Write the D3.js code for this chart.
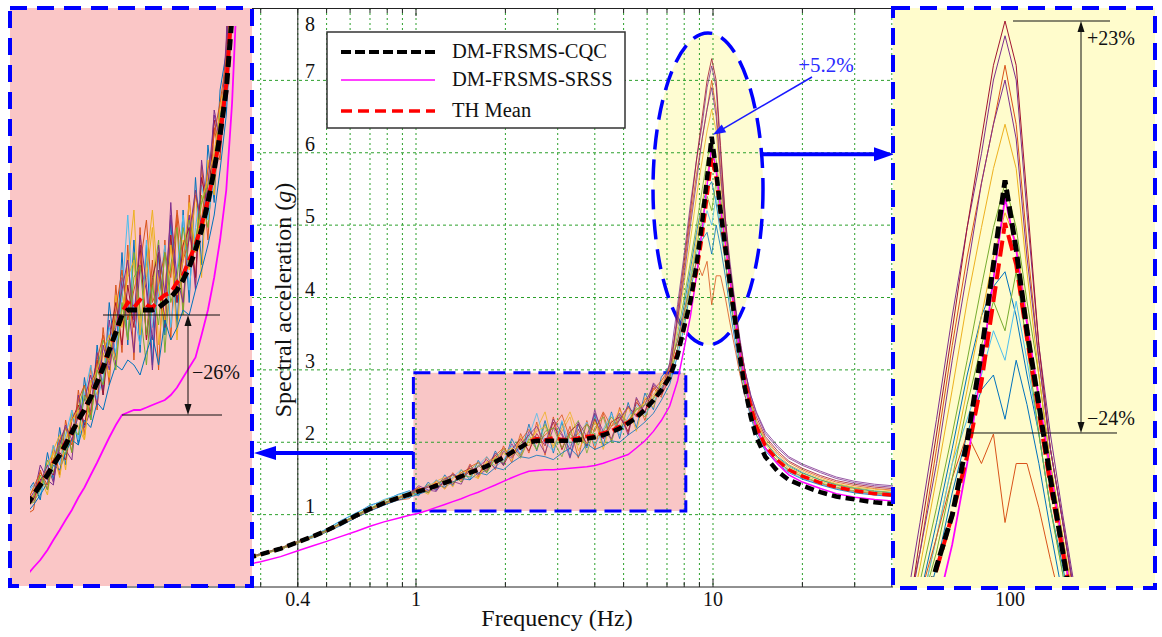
<!DOCTYPE html>
<html><head><meta charset="utf-8">
<script src="https://cdn.jsdelivr.net/npm/d3@7"></script>
<style>body{margin:0;background:#fff}svg{display:block}text{font-family:"Liberation Serif","DejaVu Serif",serif;fill:#111}</style>
</head><body><svg id="chart" width="1162" height="637"></svg>
<script>
// ---------------- data ----------------
const freq = [0.27,0.3,0.35,0.4,0.45,0.5,0.56,0.63,0.7,0.78,0.87,
  0.95,1.02,1.1,1.17,1.25,1.33,1.42,1.52,1.62,1.73,1.85,1.97,2.1,2.25,2.4,2.55,2.72,2.9,3.1,3.3,3.52,3.76,4.0,4.27,4.55,4.85,5.18,5.52,5.9,6.3,6.7,7.15,
  7.6,8.0,8.4,8.8,9.2,9.55,9.9,10.25,10.6,11.0,11.4,11.85,12.3,12.8,13.4,14.0,
  15,16.5,18,20,23,26,30,35,40,45];
const cqc = [0.40,0.45,0.53,0.62,0.70,0.78,0.88,0.99,1.08,1.16,1.23,
  1.28,1.32,1.36,1.40,1.44,1.48,1.53,1.58,1.62,1.67,1.73,1.79,1.86,1.93,2.00,2.02,2.02,2.02,2.02,2.02,2.03,2.05,2.07,2.10,2.14,2.19,2.26,2.34,2.45,2.58,2.72,2.90,
  3.2,3.6,3.95,4.45,5.05,5.65,6.22,5.75,5.2,4.7,4.2,3.7,3.2,2.75,2.35,2.07,
  1.80,1.60,1.48,1.40,1.31,1.25,1.21,1.17,1.15,1.13];
const srss = [0.31,0.35,0.42,0.50,0.57,0.63,0.70,0.77,0.84,0.90,0.95,
  0.99,1.02,1.06,1.10,1.14,1.18,1.22,1.27,1.31,1.36,1.41,1.46,1.51,1.56,1.60,1.61,1.62,1.62,1.63,1.64,1.65,1.66,1.68,1.71,1.75,1.79,1.83,1.92,2.02,2.15,2.30,2.50,
  2.85,3.3,3.75,4.3,4.95,5.55,6.1,5.75,5.25,4.75,4.25,3.75,3.25,2.85,2.45,2.2,
  1.92,1.7,1.55,1.45,1.36,1.29,1.24,1.21,1.19,1.17];
const thMean = [0.40,0.45,0.53,0.62,0.70,0.78,0.88,0.99,1.08,1.16,1.23,
  1.28,1.33,1.36,1.41,1.44,1.49,1.53,1.58,1.63,1.67,1.73,1.80,1.86,1.93,2.01,2.05,2.03,2.06,2.04,2.03,2.06,2.08,2.09,2.13,2.16,2.22,2.28,2.36,2.46,2.58,2.73,2.92,
  3.25,3.58,3.95,4.35,4.85,5.4,5.93,5.65,5.15,4.65,4.15,3.7,3.25,2.85,2.5,2.22,
  1.95,1.75,1.62,1.53,1.44,1.38,1.33,1.29,1.27,1.25];
const thRecords = [
 [0.41,0.46,0.54,0.63,0.71,0.80,0.92,1.02,1.13,1.19,1.28, 1.33,1.26,1.45,1.34,1.55,1.40,1.62,1.48,1.75,1.58,1.88,1.68,2.05,1.82,2.25,1.88,2.30,1.85,2.28,1.80,2.25,1.92,2.38,1.95,2.42,2.05,2.55,2.20,2.68,2.45,2.90,3.05, 3.4,3.9,4.4,4.9,5.3,5.5,5.6,5.3,4.9,4.5,4.0,3.6,3.15,2.8,2.5,2.25, 2.0,1.8,1.68,1.58,1.48,1.41,1.36,1.32,1.30,1.28],
 [0.40,0.45,0.52,0.61,0.69,0.76,0.86,0.96,1.05,1.14,1.20, 1.22,1.38,1.30,1.48,1.36,1.58,1.45,1.70,1.52,1.80,1.62,1.95,1.72,2.12,1.85,2.28,1.82,2.35,1.90,2.22,1.78,2.30,1.90,2.40,2.02,2.48,2.12,2.60,2.30,2.75,2.62,3.08, 3.7,4.4,5.1,5.7,6.2,6.6,7.0,6.6,5.8,5.0,4.4,3.9,3.35,2.9,2.55,2.3, 2.05,1.85,1.72,1.62,1.52,1.45,1.40,1.36,1.34,1.32],
 [0.39,0.44,0.53,0.62,0.71,0.79,0.87,1.01,1.08,1.20,1.25, 1.30,1.35,1.28,1.46,1.52,1.38,1.62,1.55,1.50,1.74,1.68,1.85,1.75,2.08,1.95,2.18,2.42,1.95,2.15,2.35,1.88,2.12,2.32,1.90,2.30,2.18,2.50,2.15,2.62,2.48,2.85,2.95, 3.3,3.8,4.3,4.8,5.3,5.7,6.0,5.8,5.3,4.7,4.2,3.7,3.25,2.8,2.45,2.2, 1.97,1.77,1.64,1.55,1.46,1.40,1.35,1.31,1.29,1.27],
 [0.40,0.45,0.53,0.62,0.70,0.78,0.88,0.99,1.08,1.16,1.23, 1.27,1.40,1.34,1.32,1.50,1.46,1.42,1.68,1.55,1.62,1.85,1.70,1.98,1.80,2.15,2.05,1.85,2.20,2.10,1.78,2.18,1.98,2.45,2.05,2.22,2.40,2.10,2.62,2.40,2.82,2.70,3.10, 3.9,4.6,5.3,5.9,6.4,6.9,7.2,6.9,6.0,5.1,4.5,3.95,3.45,3.0,2.65,2.4, 2.12,1.92,1.78,1.68,1.58,1.50,1.44,1.40,1.38,1.36],
 [0.40,0.46,0.54,0.63,0.71,0.79,0.89,1.00,1.09,1.17,1.24, 1.25,1.30,1.42,1.37,1.46,1.55,1.45,1.62,1.72,1.58,1.78,1.90,1.82,1.98,2.10,1.90,2.25,2.02,1.80,2.12,2.30,1.85,2.20,2.35,2.00,2.38,2.28,2.48,2.35,2.62,2.80,2.90, 3.5,4.0,4.5,5.0,5.5,5.9,6.2,5.9,5.4,4.9,4.3,3.8,3.3,2.85,2.5,2.25, 2.0,1.79,1.66,1.57,1.48,1.42,1.37,1.33,1.31,1.29],
 [0.41,0.46,0.53,0.63,0.72,0.80,0.91,1.03,1.11,1.21,1.27, 1.32,1.28,1.38,1.48,1.40,1.52,1.62,1.50,1.68,1.80,1.66,1.75,1.95,1.85,2.08,2.40,2.00,1.88,2.30,1.95,2.08,2.28,1.95,2.18,2.40,2.10,2.35,2.52,2.38,2.55,2.75,2.85, 3.3,3.8,4.3,4.6,4.9,5.2,5.0,5.4,5.0,4.5,4.0,3.55,3.1,2.75,2.4,2.15, 1.9,1.72,1.6,1.5,1.42,1.36,1.31,1.28,1.26,1.24],
 [0.40,0.45,0.53,0.62,0.70,0.78,0.88,0.98,1.07,1.15,1.22, 1.26,1.34,1.38,1.36,1.45,1.42,1.58,1.64,1.56,1.70,1.82,1.68,1.90,2.05,1.88,2.12,1.95,2.28,1.90,2.15,2.25,1.95,2.32,2.05,2.28,2.35,2.15,2.55,2.42,2.78,2.65,2.88, 3.8,4.5,5.2,5.9,6.5,7.0,7.3,7.0,6.1,5.1,4.4,3.9,3.4,3.0,2.6,2.35, 2.08,1.88,1.74,1.64,1.54,1.47,1.42,1.38,1.36,1.34],
 [0.40,0.45,0.52,0.61,0.68,0.76,0.85,0.96,1.05,1.13,1.20, 1.24,1.28,1.33,1.40,1.38,1.45,1.50,1.48,1.58,1.55,1.65,1.62,1.72,1.80,1.78,1.82,1.80,1.76,1.85,1.92,1.80,1.98,1.90,1.95,2.02,2.00,2.10,2.18,2.28,2.40,2.58,2.80, 3.2,3.6,4.1,4.5,4.8,4.9,4.6,5.0,4.7,4.3,3.85,3.4,3.0,2.65,2.35,2.1, 1.88,1.7,1.58,1.49,1.41,1.35,1.30,1.27,1.25,1.23],
 [0.41,0.46,0.54,0.63,0.70,0.78,0.88,0.99,1.08,1.16,1.23, 1.31,1.37,1.32,1.42,1.50,1.55,1.48,1.66,1.72,1.60,1.82,1.92,1.80,2.02,2.18,1.98,2.10,2.20,2.38,2.05,2.12,2.25,2.15,2.42,2.22,2.30,2.48,2.38,2.58,2.72,2.85,3.02, 3.4,3.8,4.2,4.5,4.3,4.5,3.9,4.3,4.3,4.0,3.65,3.3,2.95,2.65,2.4,2.15, 1.92,1.74,1.61,1.52,1.43,1.37,1.32,1.29,1.27,1.25],
 [0.39,0.44,0.52,0.61,0.69,0.77,0.87,0.98,1.07,1.15,1.22, 1.28,1.32,1.40,1.45,1.35,1.50,1.58,1.62,1.50,1.72,1.78,1.86,1.92,1.82,2.02,2.15,2.22,1.92,2.20,2.42,2.10,1.98,2.28,2.08,2.22,2.45,2.25,2.45,2.55,2.65,2.82,2.95, 3.6,4.2,4.8,5.4,5.9,6.3,6.6,6.3,5.6,4.9,4.3,3.8,3.3,2.9,2.55,2.3, 2.02,1.83,1.69,1.6,1.5,1.43,1.38,1.35,1.33,1.31],
 [0.40,0.45,0.53,0.62,0.70,0.78,0.88,0.99,1.08,1.16,1.23, 1.29,1.33,1.40,1.33,1.48,1.56,1.50,1.60,1.66,1.76,1.64,1.88,1.78,1.95,2.10,2.22,1.98,2.32,2.12,1.90,2.28,2.08,2.40,2.15,2.05,2.32,2.50,2.35,2.52,2.80,2.70,2.98, 3.7,4.3,5.0,5.6,6.2,6.6,6.9,6.5,5.7,5.0,4.4,3.9,3.4,3.0,2.65,2.42, 2.15,1.95,1.8,1.7,1.6,1.52,1.46,1.42,1.4,1.38],
 [0.40,0.45,0.53,0.62,0.70,0.78,0.88,0.99,1.08,1.16,1.23, 1.27,1.36,1.30,1.42,1.48,1.44,1.55,1.52,1.68,1.58,1.78,1.72,1.90,1.78,2.05,1.90,2.15,2.20,1.92,2.12,1.96,2.25,2.05,2.15,2.35,2.20,2.30,2.45,2.52,2.60,2.76,2.90, 3.3,3.7,4.2,4.7,5.1,5.4,5.2,5.6,5.1,4.5,4.0,3.55,3.1,2.75,2.45,2.2, 1.93,1.74,1.62,1.53,1.44,1.38,1.33,1.30,1.28,1.26]
];
const thColors = ["#0072BD","#D95319","#EDB120","#7E2F8E","#77AC30","#4DBEEE","#A2142F"];
const seriesNames = ["DM-FRSMS-CQC","DM-FRSMS-SRSS","TH Mean"];
const yTickValues = [1,2,3,4,5,6,7,8];
const xTickLabels = [0.4,1,10,100];
const annotations = {peak:"+5.2%", low:"\u221226%", up:"+23%", down:"\u221224%"};

// ---------------- setup ----------------
const svg = d3.select("#chart");
svg.append("rect").attr("width",1162).attr("height",637).attr("fill","#fff");
const defs = svg.append("defs");
const BLUE = "#0000ff";

const x = d3.scaleLog().domain([0.1,100]).range([119,1010]);
const y = d3.scaleLinear().domain([0,8]).range([587,8]);
defs.append("clipPath").attr("id","cMain").append("rect").attr("x",119).attr("y",8).attr("width",891).attr("height",579);

function arrowHead(g, tx, ty, ang, len, hw, color){
  const bx = tx - len*Math.cos(ang), by = ty - len*Math.sin(ang);
  const px = -Math.sin(ang)*hw, py = Math.cos(ang)*hw;
  g.append("path").attr("d",`M${tx},${ty}L${bx+px},${by+py}L${bx-px},${by-py}Z`).attr("fill",color);
}

const main = svg.append("g");
const box = {f0:0.98,f1:8.1,v0:1.05,v1:2.96};
main.append("rect").attr("x",x(box.f0)).attr("y",y(box.v1)).attr("width",x(box.f1)-x(box.f0)).attr("height",y(box.v0)-y(box.v1)).attr("fill","#f9c6c6");
const ell = {f:9.62, v:5.5, rx:55, ry:156};
main.append("ellipse").attr("cx",x(ell.f)).attr("cy",y(ell.v)).attr("rx",ell.rx).attr("ry",ell.ry).attr("fill","#fefcd2");

// grid
const xt = x.ticks().filter(t=>t>0.1&&t<100);
main.append("g").selectAll("line").data(xt).join("line")
  .attr("x1",d=>x(d)).attr("x2",d=>x(d)).attr("y1",8).attr("y2",587)
  .attr("stroke","#2ca02c").attr("stroke-width",1).attr("stroke-dasharray","2,3");
main.append("g").selectAll("line").data([1,2,3,4,5,6,7]).join("line")
  .attr("x1",119).attr("x2",1010).attr("y1",d=>y(d)).attr("y2",d=>y(d))
  .attr("stroke","#2ca02c").attr("stroke-width",1).attr("stroke-dasharray","3,3");

// frame & ticks
const frame = main.append("g").attr("stroke","#222").attr("stroke-width",1);
frame.append("line").attr("x1",119).attr("x2",1010).attr("y1",8.5).attr("y2",8.5);
frame.append("line").attr("x1",119).attr("x2",1010).attr("y1",587).attr("y2",587);
frame.append("line").attr("x1",x(0.4)).attr("x2",x(0.4)).attr("y1",8).attr("y2",587);
const isMajor = t=>Math.abs(Math.log10(t)-Math.round(Math.log10(t)))<1e-6;
frame.selectAll(".tb").data(xt).join("line").attr("x1",d=>x(d)).attr("x2",d=>x(d))
  .attr("y1",587).attr("y2",d=>isMajor(d)?579:582);
frame.selectAll(".tt").data(xt).join("line").attr("x1",d=>x(d)).attr("x2",d=>x(d))
  .attr("y1",8).attr("y2",d=>isMajor(d)?16:13);

main.append("rect").attr("x",x(box.f0)).attr("y",y(box.v1)).attr("width",x(box.f1)-x(box.f0)).attr("height",y(box.v0)-y(box.v1))
  .attr("fill","none").attr("stroke",BLUE).attr("stroke-width",3).attr("stroke-dasharray","17,8");
main.append("ellipse").attr("cx",x(ell.f)).attr("cy",y(ell.v)).attr("rx",ell.rx).attr("ry",ell.ry)
  .attr("fill","none").attr("stroke",BLUE).attr("stroke-width",3.5).attr("stroke-dasharray","20,10");

// curves
function drawCurves(g, xs, ys, st){
  const ln = vals => d3.line().x((d,i)=>xs(freq[i])).y(d=>ys(d))(vals.slice(0,freq.length));
  thRecords.forEach((r,i)=>{
    g.append("path").attr("d",ln(r)).attr("fill","none").attr("stroke",thColors[i%thColors.length])
      .attr("stroke-width",st.th).attr("stroke-linejoin","round");
  });
  g.append("path").attr("d",ln(srss)).attr("fill","none").attr("stroke","#ff00ff").attr("stroke-width",st.srss);
  g.append("path").attr("d",ln(thMean)).attr("fill","none").attr("stroke","#ff0000").attr("stroke-width",st.mean).attr("stroke-dasharray",st.meanDash);
  g.append("path").attr("d",ln(cqc)).attr("fill","none").attr("stroke","#000").attr("stroke-width",st.cqc).attr("stroke-dasharray",st.cqcDash);
}
drawCurves(main.append("g").attr("clip-path","url(#cMain)"), x, y, {th:0.8,srss:1.5,mean:3.5,meanDash:"9,5",cqc:4.5,cqcDash:"9,5"});

// tick labels
svg.append("g").selectAll("text").data(yTickValues).join("text")
  .attr("x",305).attr("y",d=>Math.max(y(d)-2,31)).attr("font-size",20).text(d=>d);
svg.append("g").selectAll("text").data(xTickLabels).join("text")
  .attr("x",d=>x(d)).attr("y",606).attr("text-anchor","middle").attr("font-size",20).text(d=>d);
svg.append("text").attr("x",557).attr("y",626).attr("text-anchor","middle").attr("font-size",24).text("Frequency (Hz)");
svg.append("text").attr("transform","translate(291,300) rotate(-90)").attr("text-anchor","middle").attr("font-size",24)
  .html('Spectral acceleration (<tspan font-style="italic">g</tspan>)');

// legend
const lg = svg.append("g");
lg.append("rect").attr("x",327).attr("y",32).attr("width",298).attr("height",96).attr("fill","#fff").attr("stroke","#333").attr("stroke-width",1.5);
const legStyles = [{c:"#000",w:4,d:"10,4"},{c:"#ff00ff",w:1.5,d:null},{c:"#ff0000",w:3.5,d:"11,6"}];
const legY = [52,80,111];
seriesNames.forEach((n,i)=>{
  const l = lg.append("line").attr("x1",341).attr("x2",435).attr("y1",legY[i]).attr("y2",legY[i]).attr("stroke",legStyles[i].c).attr("stroke-width",legStyles[i].w);
  if(legStyles[i].d) l.attr("stroke-dasharray",legStyles[i].d);
  lg.append("text").attr("x",452).attr("y",legY[i]+6).attr("font-size",20.5).text(n);
});

// arrows & peak annotation
const ag = svg.append("g");
const yArrowL = y(1.85);
ag.append("line").attr("x1",x(box.f0)).attr("x2",272).attr("y1",yArrowL).attr("y2",yArrowL).attr("stroke",BLUE).attr("stroke-width",4);
arrowHead(ag,254,yArrowL,Math.PI,22,7,BLUE);
const yArrowR = y(5.98);
ag.append("line").attr("x1",x(ell.f)+ell.rx).attr("x2",876).attr("y1",yArrowR).attr("y2",yArrowR).attr("stroke",BLUE).attr("stroke-width",4);
arrowHead(ag,894,yArrowR,0,20,7,BLUE);
const pk = cqc.indexOf(d3.max(cqc));
const tipX = x(freq[pk])+1, tipY = y(cqc[pk])-2;
const ang = Math.atan2(tipY-77, tipX-812);
ag.append("line").attr("x1",812).attr("y1",77).attr("x2",tipX-10*Math.cos(ang)).attr("y2",tipY-10*Math.sin(ang)).attr("stroke","#1a1aff").attr("stroke-width",1.5);
arrowHead(ag,tipX,tipY,ang,13,4.5,"#1a1aff");
ag.append("text").attr("x",826).attr("y",72).attr("text-anchor","middle").attr("font-size",21).style("fill","#2b2bff").text(annotations.peak);

// ---------------- left inset ----------------
const L = svg.append("g");
L.append("rect").attr("x",10).attr("y",8).attr("width",242).attr("height",578).attr("fill","#fac6c6");
defs.append("clipPath").attr("id","cL").append("rect").attr("x",30).attr("y",26).attr("width",220).attr("height",558);
const xL = d3.scaleLog().domain([0.9,8.5]).range([28.3,242.8]);
const yL = d3.scaleLinear().domain([0.9,3.3]).range([590,-10]);
drawCurves(L.append("g").attr("clip-path","url(#cL)"), xL, yL, {th:1,srss:1.8,mean:4,meanDash:"11,6",cqc:5,cqcDash:"11,6"});
const plateau = cqc[freq.indexOf(2.4)], kink = srss[freq.indexOf(2.4)];
const la = L.append("g").attr("stroke","#111").attr("stroke-width",1);
la.append("line").attr("x1",103).attr("x2",220).attr("y1",yL(plateau)).attr("y2",yL(plateau));
la.append("line").attr("x1",xL(2.4)).attr("x2",222).attr("y1",yL(kink)).attr("y2",yL(kink));
la.append("line").attr("x1",188).attr("x2",188).attr("y1",yL(plateau)+9).attr("y2",yL(kink)-9);
arrowHead(L,188,yL(plateau),-Math.PI/2,11,3.5,"#111");
arrowHead(L,188,yL(kink),Math.PI/2,11,3.5,"#111");
L.append("text").attr("x",192).attr("y",379).attr("font-size",20).text(annotations.low);
L.append("rect").attr("x",10).attr("y",8).attr("width",242).attr("height",578).attr("fill","none")
  .attr("stroke",BLUE).attr("stroke-width",4).attr("stroke-dasharray","17,10");

// ---------------- right inset ----------------
const R = svg.append("g");
R.append("rect").attr("x",893).attr("y",8).attr("width",262).attr("height",580).attr("fill","#fffccc");
defs.append("clipPath").attr("id","cR").append("rect").attr("x",895).attr("y",10).attr("width",258).attr("height",567);
const xR = d3.scaleLog().domain([7,14]).range([893.6,1116.4]);
const yR = d3.scaleLinear().domain([3,7.5]).range([655.25,-8.5]);
drawCurves(R.append("g").attr("clip-path","url(#cR)"), xR, yR, {th:1,srss:1.8,mean:4,meanDash:"16,7",cqc:5,cqcDash:"12,5"});
const thMax = d3.max(thRecords, r=>d3.max(r));
const meanPk = d3.max(thMean);
const lowV = meanPk*0.76;
const ra = R.append("g").attr("stroke","#111").attr("stroke-width",1);
ra.append("line").attr("x1",1013).attr("x2",1110).attr("y1",yR(thMax)).attr("y2",yR(thMax));
ra.append("line").attr("x1",967).attr("x2",1117).attr("y1",yR(lowV)).attr("y2",yR(lowV));
ra.append("line").attr("x1",1081).attr("x2",1081).attr("y1",yR(thMax)+9).attr("y2",yR(lowV)-9);
arrowHead(R,1081,yR(thMax),-Math.PI/2,11,3.5,"#111");
arrowHead(R,1081,yR(lowV),Math.PI/2,11,3.5,"#111");
R.append("text").attr("x",1087).attr("y",45).attr("font-size",20).text(annotations.up);
R.append("text").attr("x",1087).attr("y",425).attr("font-size",20).text(annotations.down);
R.append("rect").attr("x",893).attr("y",8).attr("width",262).attr("height",580).attr("fill","none")
  .attr("stroke",BLUE).attr("stroke-width",4).attr("stroke-dasharray","17,10");
</script></body></html>
